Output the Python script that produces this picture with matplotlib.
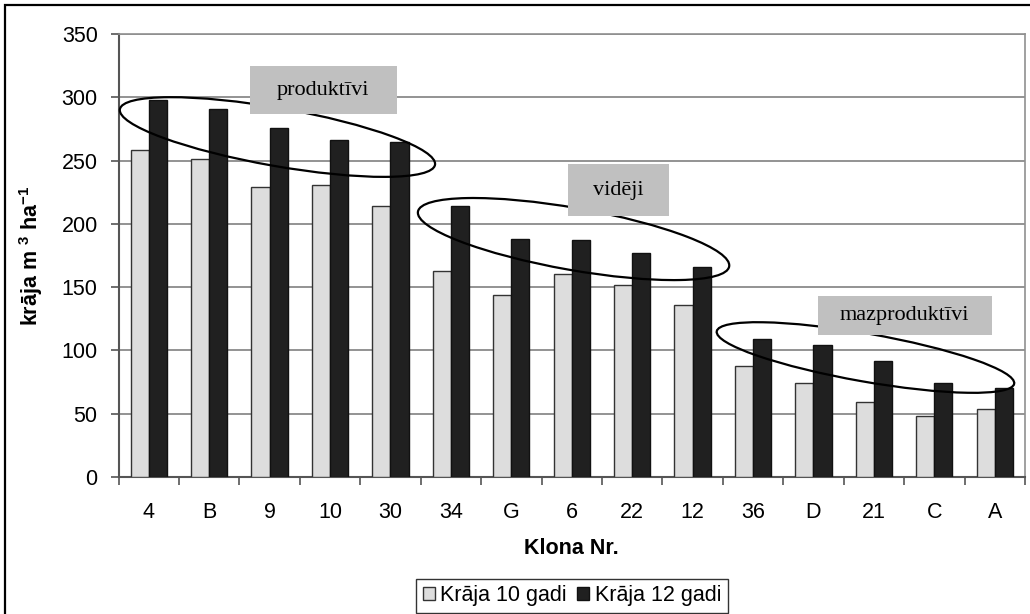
import matplotlib
matplotlib.use("Agg")
import matplotlib.pyplot as plt
import numpy as np
from matplotlib.patches import Ellipse, Rectangle
from matplotlib.transforms import ScaledTranslation

plt.rcParams['font.family'] = ['Liberation Sans', 'DejaVu Sans']
plt.rcParams['mathtext.fontset'] = 'custom'
plt.rcParams['mathtext.rm'] = 'Liberation Sans:bold'
plt.rcParams['mathtext.bf'] = 'Liberation Sans:bold'

clones = ['4', 'B', '9', '10', '30', '34', 'G', '6', '22', '12', '36', 'D', '21', 'C', 'A']
kraja_10 = [258, 251, 229, 231, 214, 163, 144, 160, 152, 136, 88, 74, 59, 48, 54]
kraja_12 = [298, 291, 276, 266, 265, 214, 188, 187, 177, 166, 109, 104, 92, 74, 70]

# group labels: text, box centre (x, y in data units), box size px
groups = ['produktīvi', 'vidēji', 'mazproduktīvi']
group_box_xy = [(2.89, 305.7), (7.77, 226.7), (12.51, 127.6)]
group_box_px = [(147, 48), (101, 52), (174, 39)]
# ellipses: centre in data units, half axes px
group_ell_xy = [(2.13, 268.6), (7.03, 188.0), (11.86, 94.4)]
group_ell_px = [(160, 29), (158, 31), (151, 24)]

fs = 15.5

fig = plt.figure(figsize=(10.3, 6.14), dpi=100)
ax = fig.add_axes([118.5 / 1030, 1 - 477 / 614, (1025 - 118.5) / 1030, (477 - 34) / 614])

x = np.arange(len(clones))
w = 0.3
ax.bar(x - w / 2, kraja_10, w, color='#dddddd', edgecolor='#333333', linewidth=1, label='Krāja 10 gadi', zorder=3)
ax.bar(x + w / 2, kraja_12, w, color='#202020', edgecolor='#111111', linewidth=1, label='Krāja 12 gadi', zorder=3)

ax.set_xlim(-0.5, len(clones) - 0.5)
ax.set_ylim(0, 350)
ax.set_yticks(range(0, 351, 50))
ax.set_xticks(x)
ax.set_xticklabels(clones)
ax.set_xticks(np.arange(len(clones) + 1) - 0.5, minor=True)
ax.tick_params(axis='x', which='major', length=0, pad=18, labelsize=fs)
ax.tick_params(axis='x', which='minor', length=6, width=1.2, color='#555555', direction='out')
ax.tick_params(axis='y', length=6, width=1.2, color='#555555', pad=9, labelsize=fs)
ax.grid(axis='y', color='#808080', linewidth=1.2, zorder=0)
ax.set_axisbelow(True)
for side in ['top', 'right']:
    ax.spines[side].set_color('#909090')
    ax.spines[side].set_linewidth(1.2)
for side in ['left', 'bottom']:
    ax.spines[side].set_color('#555555')
    ax.spines[side].set_linewidth(1.5)

ax.set_xlabel('Klona Nr.', fontsize=fs, fontweight='bold', labelpad=11)
ax.set_ylabel(r'krāja m $^{3}$ ha$^{-1}$', fontsize=fs, fontweight='bold', labelpad=12)

for (cx, cy), (a, b) in zip(group_ell_xy, group_ell_px):
    tr = fig.dpi_scale_trans + ScaledTranslation(cx, cy, ax.transData)
    e = Ellipse((0, 0), 2 * a / 100, 2 * b / 100, angle=-10, transform=tr,
                fill=False, edgecolor='black', linewidth=1.6, zorder=5, clip_on=False)
    fig.add_artist(e)

for name, (cx, cy), (bw, bh) in zip(groups, group_box_xy, group_box_px):
    tr = fig.dpi_scale_trans + ScaledTranslation(cx, cy, ax.transData)
    r = Rectangle((-bw / 200, -bh / 200), bw / 100, bh / 100, transform=tr,
                  facecolor='#c0c0c0', edgecolor='none', zorder=6, clip_on=False)
    fig.add_artist(r)
    fig.text(0, 0, name, transform=tr, ha='center', va='center', fontsize=16,
             family=['Liberation Serif'], zorder=7)

leg = fig.legend(loc='center', bbox_to_anchor=(572 / 1030, 1 - 596 / 614), ncol=2,
                 fontsize=fs, frameon=True, fancybox=False, edgecolor='black',
                 handlelength=0.55, handleheight=0.55, handletextpad=0.25,
                 columnspacing=0.5, borderpad=0.3, borderaxespad=0)
leg.get_frame().set_linewidth(1.0)

fig.add_artist(Rectangle((5 / 1030, -0.1), 2, (614 - 5) / 614 + 0.1, transform=fig.transFigure,
                         fill=False, edgecolor='black', linewidth=1.6))

fig.savefig('out.png', dpi=100, facecolor='white')
